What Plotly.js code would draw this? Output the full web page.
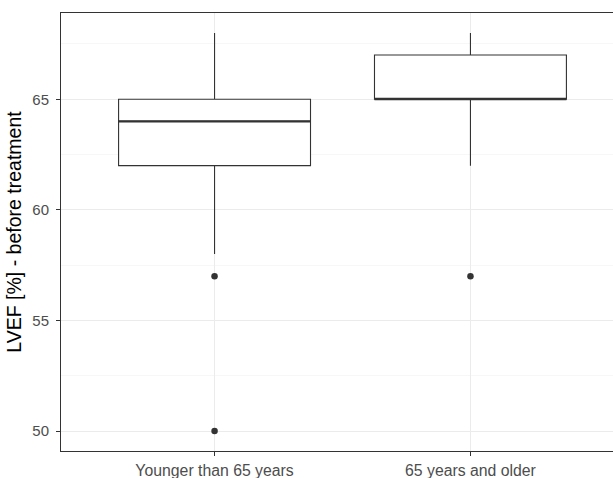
<!DOCTYPE html>
<html>
<head>
<meta charset="utf-8">
<script src="https://cdn.plot.ly/plotly-3.0.1.min.js"></script>
<style>
html, body { margin: 0; padding: 0; overflow: hidden; background: #ffffff; }
#chart { width: 630px; height: 478px; }
</style>
</head>
<body>
<div id="chart"></div>
<script>
// Data
const categories = ["Younger than 65 years", "65 years and older"];
const lowerWhisker = [58, 62];
const q1Values = [62, 65];
const medianValues = [64, 65];
const q3Values = [65, 67];
const upperWhisker = [68, 68];
const outlierCategory = [0, 0, 1];
const outlierValues = [57, 50, 57];
const yTickValues = [50, 55, 60, 65];
const yAxisTitle = "LVEF [%] - before treatment";

const positions = categories.map((c, i) => i);
const boxWidth = 0.75;
const ink = "#333333";

const boxTrace = {
  type: "box",
  x: positions,
  q1: q1Values,
  median: medianValues,
  q3: q3Values,
  lowerfence: lowerWhisker,
  upperfence: upperWhisker,
  boxpoints: false,
  width: boxWidth,
  whiskerwidth: 0,
  fillcolor: "#ffffff",
  line: { color: ink, width: 1.1 },
  hoverinfo: "skip",
  showlegend: false
};

// Thicker median lines (ggplot fatten)
const medX = [], medY = [];
positions.forEach((p, i) => {
  medX.push(p - boxWidth / 2, p + boxWidth / 2, null);
  medY.push(medianValues[i], medianValues[i], null);
});
const medianTrace = {
  type: "scatter",
  mode: "lines",
  x: medX,
  y: medY,
  line: { color: ink, width: 2.2 },
  hoverinfo: "skip",
  showlegend: false
};

const outlierTrace = {
  type: "scatter",
  mode: "markers",
  x: outlierCategory,
  y: outlierValues,
  marker: { color: ink, size: 6.5 },
  hoverinfo: "skip",
  showlegend: false
};

const layout = {
  width: 630,
  height: 478,
  margin: { l: 61, r: 6, t: 13, b: 27 },
  paper_bgcolor: "#ffffff",
  plot_bgcolor: "#ffffff",
  font: { family: "Liberation Sans, Arial, sans-serif", color: "#4D4D4D", size: 15 },
  showlegend: false,
  xaxis: {
    type: "linear",
    range: [-0.6, 1.6],
    tickvals: positions,
    ticktext: categories,
    showgrid: true,
    gridcolor: "#EBEBEB",
    gridwidth: 1,
    zeroline: false,
    showline: true,
    mirror: true,
    linecolor: ink,
    linewidth: 1,
    ticks: "outside",
    ticklen: 4,
    tickcolor: ink,
    tickwidth: 1,
    ticklabelstandoff: 1,
    tickfont: { size: 15.8, color: "#4D4D4D" },
    fixedrange: true
  },
  yaxis: {
    range: [49.1, 68.9],
    tickvals: yTickValues,
    showgrid: true,
    gridcolor: "#EBEBEB",
    gridwidth: 1,
    minor: { dtick: 2.5, tick0: 0, showgrid: true, gridcolor: "#F1F1F1", gridwidth: 0.6, ticks: "" },
    zeroline: false,
    showline: true,
    mirror: true,
    linecolor: ink,
    linewidth: 1,
    ticks: "outside",
    ticklen: 4,
    tickcolor: ink,
    tickwidth: 1,
    ticklabelstandoff: 4,
    tickfont: { size: 15, color: "#4D4D4D" },
    title: { text: yAxisTitle, font: { size: 19.5, color: "#000000" }, standoff: 5 },
    fixedrange: true
  }
};

Plotly.newPlot("chart", [boxTrace, medianTrace, outlierTrace], layout, { staticPlot: true, displayModeBar: false });
</script>
</body>
</html>
